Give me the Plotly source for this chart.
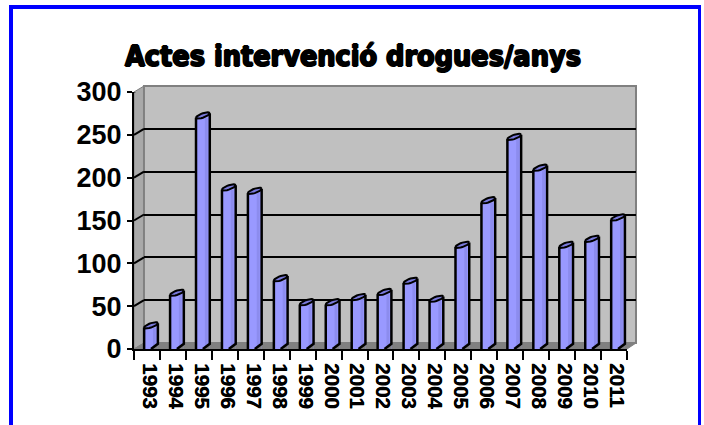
import numpy as np
import plotly.graph_objects as go

W, H = 704, 425

years = ['1993', '1994', '1995', '1996', '1997', '1998', '1999', '2000', '2001', '2002',
         '2003', '2004', '2005', '2006', '2007', '2008', '2009', '2010', '2011']
values = [25, 63, 270, 186, 182, 80, 52, 52, 58, 64, 77, 56, 119, 171, 245, 209, 119, 126, 151]
y_ticks = [0, 50, 100, 150, 200, 250, 300]

title = 'Actes intervenció drogues/anys'


def fx(p):
    return p / W


def fy(p):
    return 1 - p / H


def path(points):
    return 'M ' + ' L '.join(f'{fx(a):.4f},{fy(b):.4f}' for a, b in points) + ' Z'


idx = list(range(len(years)))
bar_off, bar_w = -0.11, 0.53
rise = 2.6   # half the cap's climb, in value units

wedge_x, wedge_y, cap_x, cap_y, mask_x, mask_y, out_x, out_y = [], [], [], [], [], [], [], []
t = np.linspace(0, 2 * np.pi, 25)
for i, v in zip(idx, values):
    left = i + bar_off
    right = left + bar_w
    cx = left + bar_w / 2
    ex = cx + bar_w / 2 * np.cos(t)
    ey = v + rise + rise * np.cos(t) + 2.6 * np.sin(t)
    cap_x += list(ex) + [None]
    cap_y += list(ey) + [None]
    wedge_x += [left, right, right, None]
    wedge_y += [v, v, v + 2 * rise, None]
    mask_x += [cx, right, right, None]
    mask_y += [0, 0, 6, None]
    out_x += [left, left, None, right, right, cx, None]
    out_y += [0, v, None, v + 2 * rise, 6, 0, None]

fig = go.Figure()

# back wall axes carry the gridlines, so they stay behind the bars
fig.add_trace(go.Scatter(x=idx, y=values, mode='lines', opacity=0, hoverinfo='skip',
                         xaxis='x', yaxis='y'))

fig.add_trace(go.Bar(x=idx, y=values, width=bar_w, offset=bar_off, marker=dict(color='#9999ff', line=dict(width=0)),
                     xaxis='x2', yaxis='y2'))
fig.add_trace(go.Bar(x=idx, y=values, width=0.11, offset=bar_off + 0.34, marker=dict(color='#8c8cee', line=dict(width=0)),
                     xaxis='x2', yaxis='y2'))
fig.add_trace(go.Scatter(x=wedge_x, y=wedge_y, mode='none', fill='toself', fillcolor='#9999ff',
                         xaxis='x2', yaxis='y2'))
fig.add_trace(go.Scatter(x=mask_x, y=mask_y, mode='none', fill='toself', fillcolor='#808080',
                         xaxis='x2', yaxis='y2'))
fig.add_trace(go.Scatter(x=cap_x, y=cap_y, mode='lines', fill='toself', fillcolor='#7a7adc',
                         line=dict(color='black', width=2), xaxis='x2', yaxis='y2'))
fig.add_trace(go.Scatter(x=out_x, y=out_y, mode='lines', line=dict(color='black', width=2.5),
                         xaxis='x2', yaxis='y2'))

BLUE = '#0000ff'
shapes = [
    # page frame, open at the bottom
    dict(type='rect', xref='paper', yref='paper', x0=fx(9), x1=fx(13), y0=0, y1=fy(5), fillcolor=BLUE, line_width=0),
    dict(type='rect', xref='paper', yref='paper', x0=fx(9), x1=fx(701), y0=fy(9), y1=fy(5), fillcolor=BLUE, line_width=0),
    dict(type='rect', xref='paper', yref='paper', x0=fx(698), x1=fx(701), y0=0, y1=fy(5), fillcolor=BLUE, line_width=0),
    # walls and floor
    dict(type='path', xref='paper', yref='paper', layer='below', fillcolor='#a9a9a9',
         path=path([(134, 349), (144, 343), (144, 86), (134, 92)]), line=dict(color='#808080', width=1)),
    dict(type='path', xref='paper', yref='paper', layer='below', fillcolor='#c0c0c0',
         path=path([(144, 343), (636, 343), (636, 86), (144, 86)]), line=dict(color='#808080', width=2)),
    dict(type='path', xref='paper', yref='paper', layer='below', fillcolor='#808080',
         path=path([(134, 349), (144, 343), (636, 343), (627, 349)]), line=dict(color='#808080', width=1)),
]
# slanted ticks running from the front axis back to the wall
for v in y_ticks[1:]:
    shapes.append(dict(type='line', xref='x2 domain', yref='y2', x0=0, x1=10 / 493, y0=v, y1=v + 7,
                       line=dict(color='black', width=2)))

fig.update_layout(
    width=W, height=H,
    autosize=False,
    margin=dict(l=0, r=0, t=0, b=0, pad=0),
    paper_bgcolor='white',
    plot_bgcolor='rgba(0,0,0,0)',
    showlegend=False,
    barmode='overlay',
    font=dict(family='Liberation Sans, Arial, sans-serif', color='black'),
    xaxis=dict(domain=[fx(144), fx(636)], range=[-0.5, 18.5], visible=False, anchor='y', automargin=False),
    yaxis=dict(domain=[fy(343), fy(86)], range=[0, 300], tickvals=y_ticks, showticklabels=False, automargin=False,
               ticks='', gridcolor='black', gridwidth=2, showline=False, zeroline=False, anchor='x'),
    xaxis2=dict(domain=[fx(134), fx(627)], range=[-0.5, 18.5], anchor='y2', automargin=False,
                tickvals=[i + 0.1 for i in idx], ticktext=years, tickangle=90,
                tickfont=dict(size=20.5, family='Liberation Sans', weight='bold',
                              shadow='0.5px 0 0 black'),
                ticks='outside', ticklen=8, tickcolor='rgba(0,0,0,0)',
                minor=dict(tickvals=[i - 0.5 for i in idx] + [18.5], ticks='outside', ticklen=9,
                           tickwidth=2, tickcolor='black', showgrid=False),
                showline=True, linecolor='black', linewidth=2, showgrid=False, zeroline=False),
    yaxis2=dict(domain=[fy(349), fy(92)], range=[0, 300], anchor='x2', tickvals=y_ticks, automargin=False,
                tickfont=dict(size=27, family='Liberation Sans', weight='bold'),
                ticks='outside', ticklen=5, tickwidth=2, tickcolor='black',
                showline=True, linecolor='black', linewidth=2, showgrid=False, zeroline=False),
    shapes=shapes,
    annotations=[dict(text=title, xref='paper', yref='paper', x=fx(353), y=fy(56), showarrow=False,
                      xanchor='center', yanchor='middle',
                      font=dict(family='DejaVu Sans Condensed, DejaVu Sans', size=28.5, weight='bold', color='black',
                                shadow='1px 0 0 black, -1px 0 0 black, 0 1px 0 black, 0 -1px 0 black'))],
)

fig.write_html("out.html", config=dict(displayModeBar=False), post_script="document.body.style.margin='0';")
